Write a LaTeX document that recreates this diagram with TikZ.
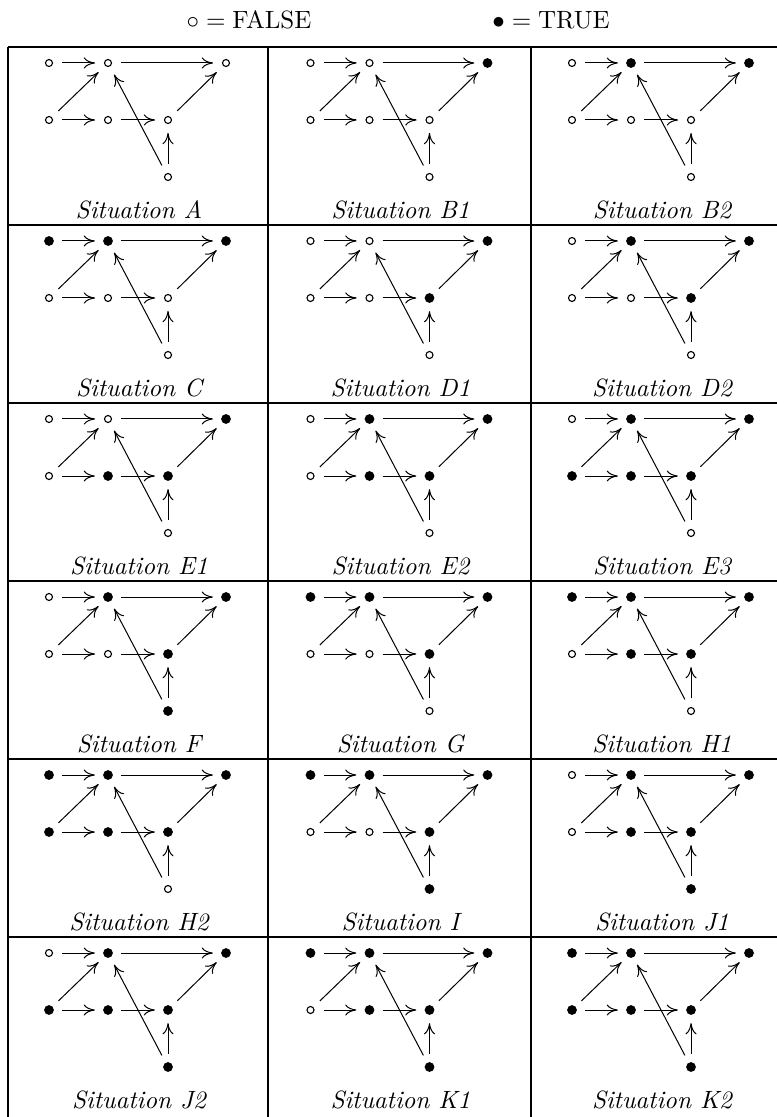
\documentclass[tikz,border=0pt]{standalone}
\usetikzlibrary{arrows.meta}
\begin{document}
\begin{tikzpicture}[x=0.4pt, y=-0.4pt, >={Computer Modern Rightarrow[length=4.5pt,width=4.5pt]},
  s0/.style={circle, draw, line width=0.45pt, inner sep=0pt, minimum size=2.8pt, outer sep=3.8pt},
  s1/.style={circle, fill, inner sep=0pt, minimum size=3.9pt, outer sep=3.3pt},
  lab/.style={font=\itshape}]
\useasboundingbox (0,0) rectangle (777,1117);
% key
\node (fkey) at (249,20) {$\circ = \mbox{FALSE}$};
\node (tkey) at (551,20) {$\bullet = \mbox{TRUE}$};
% table
\foreach \y in {47,225,403,581,759,937}
  \draw[line width=0.5pt] (8,\y) -- (800,\y);
\foreach \x in {8,268,531}
  \draw[line width=0.5pt] (\x,47) -- (\x,1120);
% one cell per situation: name/column/row/seven dots
\foreach \nm/\c/\r/\a/\b/\cc/\d/\e/\f/\g in {
  A/0/0/0/0/0/0/0/0/0, B1/1/0/0/0/1/0/0/0/0, B2/2/0/0/1/1/0/0/0/0,
  C/0/1/1/1/1/0/0/0/0, D1/1/1/0/0/1/0/0/1/0, D2/2/1/0/1/1/0/0/1/0,
  E1/0/2/0/0/1/0/1/1/0, E2/1/2/0/1/1/0/1/1/0, E3/2/2/0/1/1/1/1/1/0,
  F/0/3/0/1/1/0/0/1/1, G/1/3/1/1/1/0/0/1/0, H1/2/3/1/1/1/0/1/1/0,
  H2/0/4/1/1/1/1/1/1/0, I/1/4/1/1/1/0/0/1/1, J1/2/4/0/1/1/0/1/1/1,
  J2/0/5/0/1/1/1/1/1/1, K1/1/5/1/1/1/0/1/1/1, K2/2/5/1/1/1/1/1/1/1}
{
  \pgfmathsetmacro\xo{8+261.5*\c}
  \pgfmathsetmacro\yo{47+178*\r}
  \begin{scope}[shift={(\xo,\yo)}]
    \node[s\a] (\nm-1) at (41,16) {};
    \node[s\b] (\nm-2) at (100,16) {};
    \node[s\cc] (\nm-3) at (218,16) {};
    \node[s\d] (\nm-4) at (41,73) {};
    \node[s\e] (\nm-5) at (100,73) {};
    \node[s\f] (\nm-6) at (160,73) {};
    \node[s\g] (\nm-7) at (160,130) {};
    \node[lab] (\nm-lab) at (131,163) {Situation \nm};
    \draw[->] (\nm-1) -- (\nm-2);
    \draw[->] (\nm-2) -- (\nm-3);
    \draw[->] (\nm-4) -- (\nm-5);
    \draw[->] (\nm-5) -- (\nm-6);
    \draw[->] (\nm-4) -- (\nm-2);
    \draw[->] (\nm-6) -- (\nm-3);
    \draw[->] (\nm-7) -- (\nm-6);
    \draw[->] (\nm-7) -- (\nm-2);
  \end{scope}
}
\end{tikzpicture}
\end{document}
